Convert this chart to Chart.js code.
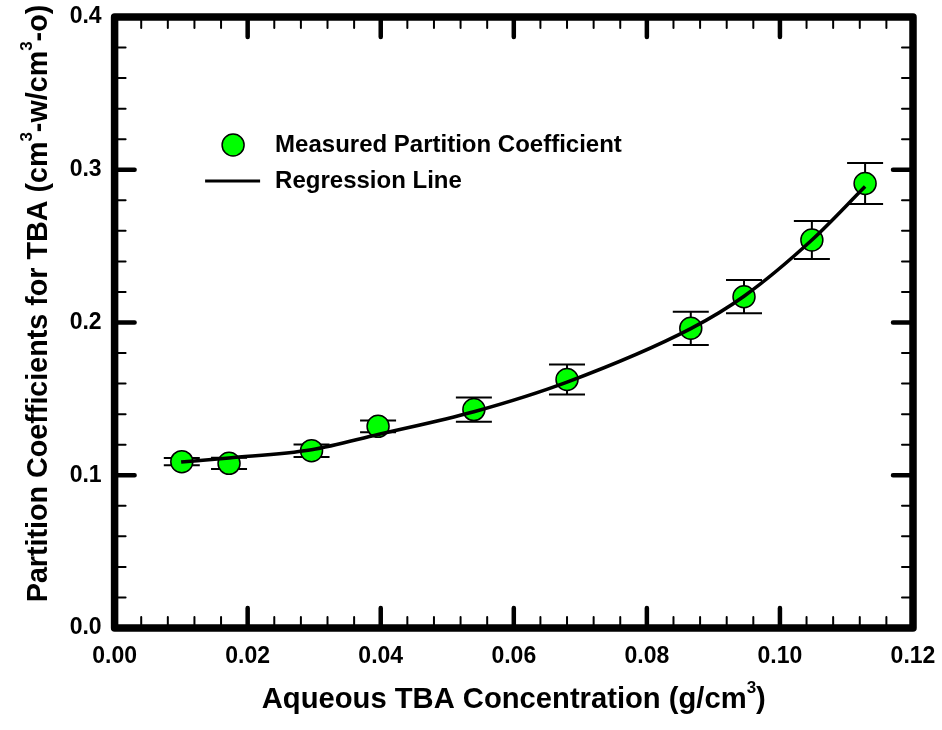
<!DOCTYPE html>
<html><head><meta charset="utf-8">
<script src="https://cdn.jsdelivr.net/npm/chart.js@4.4.0/dist/chart.umd.min.js"></script>
<style>html,body{margin:0;padding:0;background:#fff;} #wrap{width:942px;height:730px;position:relative;}</style>
</head><body><div id="wrap"><canvas id="c" width="942" height="730" style="width:942px;height:730px;"></canvas></div>
<script>
// ---- data ----
const concentration = [0.0101, 0.0172, 0.0296, 0.0396, 0.0540, 0.0680, 0.0866, 0.0946, 0.1048, 0.1128];
const partitionCoef = [0.1089, 0.1078, 0.1161, 0.1320, 0.1430, 0.1627, 0.1962, 0.2169, 0.2540, 0.2910];
const errorHalf     = [0.0024, 0.0037, 0.0041, 0.0038, 0.0079, 0.0098, 0.0109, 0.0109, 0.0125, 0.0134];
const regressionX   = [0.0100, 0.0172, 0.0296, 0.0396, 0.0540, 0.0680, 0.0866, 0.0946, 0.1048, 0.1128];
const regressionY   = [0.1087, 0.1113, 0.1167, 0.1267, 0.1416, 0.1610, 0.1960, 0.2172, 0.2540, 0.2890];
const xTickValues   = [0.00, 0.02, 0.04, 0.06, 0.08, 0.10, 0.12];
const yTickValues   = [0.0, 0.1, 0.2, 0.3, 0.4];
const seriesNames   = ['Measured Partition Coefficient', 'Regression Line'];
// '^3' marks a superscript 3
const xTitle = 'Aqueous TBA Concentration (g/cm^3)';
const yTitle = 'Partition Coefficients for TBA (cm^3-w/cm^3-o)';

const FONT = '"Liberation Sans", Arial, Helvetica, sans-serif';
const GREEN = '#00ff00';

function richParts(str) {
  const out = [];
  const re = /\^(\d)/g;
  let last = 0, m;
  while ((m = re.exec(str)) !== null) {
    if (m.index > last) out.push({t: str.slice(last, m.index), sup: false});
    out.push({t: m[1], sup: true});
    last = re.lastIndex;
  }
  if (last < str.length) out.push({t: str.slice(last), sup: false});
  return out;
}
function drawRich(ctx, str, cx, baseY, size) {
  const parts = richParts(str);
  const supSize = Math.round(size * 0.58);
  const mainF = 'bold ' + size + 'px ' + FONT, supF = 'bold ' + supSize + 'px ' + FONT;
  let total = 0;
  parts.forEach(p => { ctx.font = p.sup ? supF : mainF; p.w = ctx.measureText(p.t).width; total += p.w; });
  let x = cx - total / 2;
  ctx.textAlign = 'left';
  ctx.textBaseline = 'alphabetic';
  parts.forEach(p => {
    ctx.font = p.sup ? supF : mainF;
    ctx.fillText(p.t, x, p.sup ? baseY - size * 0.53 : baseY);
    x += p.w;
  });
}

const errorBars = {
  id: 'errorBars',
  beforeDatasetsDraw(chart) {
    const {ctx, scales: {x, y}} = chart;
    ctx.save();
    ctx.strokeStyle = '#000';
    ctx.lineWidth = 2;
    concentration.forEach((cx, i) => {
      const px = x.getPixelForValue(cx);
      const top = y.getPixelForValue(partitionCoef[i] + errorHalf[i]);
      const bot = y.getPixelForValue(partitionCoef[i] - errorHalf[i]);
      ctx.beginPath();
      ctx.moveTo(px, top); ctx.lineTo(px, bot);
      ctx.moveTo(px - 18, top); ctx.lineTo(px + 18, top);
      ctx.moveTo(px - 18, bot); ctx.lineTo(px + 18, bot);
      ctx.stroke();
    });
    ctx.restore();
  }
};

const frame = {
  id: 'frame',
  afterDraw(chart) {
    const {ctx, chartArea: a, scales: {x, y}} = chart;
    ctx.save();
    ctx.strokeStyle = '#000';
    ctx.lineCap = 'round';
    // minor ticks
    ctx.lineWidth = 2;
    for (let i = 1; i < 30; i++) {
      if (i % 5 === 0) continue;
      const px = x.getPixelForValue(i * 0.004);
      ctx.beginPath();
      ctx.moveTo(px, a.bottom); ctx.lineTo(px, a.bottom - 11);
      ctx.moveTo(px, a.top); ctx.lineTo(px, a.top + 11);
      ctx.stroke();
    }
    for (let i = 1; i < 20; i++) {
      if (i % 5 === 0) continue;
      const py = y.getPixelForValue(i * 0.02);
      ctx.beginPath();
      ctx.moveTo(a.left, py); ctx.lineTo(a.left + 11, py);
      ctx.moveTo(a.right, py); ctx.lineTo(a.right - 11, py);
      ctx.stroke();
    }
    // major ticks
    ctx.lineWidth = 4.5;
    xTickValues.slice(1, -1).forEach(v => {
      const px = x.getPixelForValue(v);
      ctx.beginPath();
      ctx.moveTo(px, a.bottom); ctx.lineTo(px, a.bottom - 20);
      ctx.moveTo(px, a.top); ctx.lineTo(px, a.top + 20);
      ctx.stroke();
    });
    yTickValues.slice(1, -1).forEach(v => {
      const py = y.getPixelForValue(v);
      ctx.beginPath();
      ctx.moveTo(a.left, py); ctx.lineTo(a.left + 20, py);
      ctx.moveTo(a.right, py); ctx.lineTo(a.right - 20, py);
      ctx.stroke();
    });
    // frame
    ctx.lineWidth = 7.5;
    ctx.lineJoin = 'round';
    ctx.strokeRect(a.left, a.top, a.right - a.left, a.bottom - a.top);

    // axis titles
    ctx.fillStyle = '#000';
    drawRich(ctx, xTitle, (a.left + a.right) / 2, a.bottom + 80, 29.2);
    ctx.save();
    ctx.translate(a.left - 67.5, (a.top + a.bottom) / 2 - 19);
    ctx.rotate(-Math.PI / 2);
    drawRich(ctx, yTitle, 0, 0, 28.7);
    ctx.restore();

    // legend
    ctx.font = 'bold 24px ' + FONT;
    ctx.textBaseline = 'middle';
    ctx.textAlign = 'left';
    const lx = a.left + 118.5, ly = a.top + 128;
    ctx.beginPath();
    ctx.arc(lx, ly, 11, 0, Math.PI * 2);
    ctx.fillStyle = GREEN; ctx.fill();
    ctx.lineWidth = 1.5; ctx.stroke();
    ctx.fillStyle = '#000';
    ctx.fillText(seriesNames[0], lx + 42, ly);
    ctx.lineWidth = 3; ctx.lineCap = 'butt';
    ctx.beginPath();
    ctx.moveTo(lx - 28, ly + 36); ctx.lineTo(lx + 27, ly + 36);
    ctx.stroke();
    ctx.fillText(seriesNames[1], lx + 42, ly + 36);
    ctx.restore();
  }
};

const zeroPad = s => { s.paddingTop = 0; s.paddingBottom = 0; s.paddingLeft = 0; s.paddingRight = 0; };

new Chart(document.getElementById('c'), {
  type: 'scatter',
  data: {
    datasets: [
      {
        type: 'line',
        label: seriesNames[1],
        data: regressionX.map((v, i) => ({x: v, y: regressionY[i]})),
        borderColor: '#000',
        borderWidth: 3.5,
        pointRadius: 0,
        fill: false,
        cubicInterpolationMode: 'monotone',
        order: 0
      },
      {
        label: seriesNames[0],
        data: concentration.map((v, i) => ({x: v, y: partitionCoef[i]})),
        backgroundColor: GREEN,
        borderColor: '#000',
        borderWidth: 1.5,
        pointRadius: 11,
        pointHoverRadius: 11,
        order: 1
      }
    ]
  },
  options: {
    responsive: false,
    animation: false,
    devicePixelRatio: 1,
    layout: {padding: {top: 17, right: 29, left: 0, bottom: 0}},
    plugins: {legend: {display: false}, tooltip: {enabled: false}},
    scales: {
      x: {
        type: 'linear', min: 0, max: 0.12,
        afterBuildTicks: s => { s.ticks = xTickValues.map(v => ({value: v})); },
        afterFit: s => { s.height = 102; zeroPad(s); },
        grid: {display: false, drawTicks: false},
        border: {display: false},
        ticks: {padding: 15, color: '#000', font: {family: FONT, size: 23, weight: 'bold'},
                callback: v => Number(v).toFixed(2), maxRotation: 0, autoSkip: false},
        title: {display: false, text: xTitle.replace('^3', '\u00B3')}
      },
      y: {
        type: 'linear', min: 0, max: 0.4,
        afterBuildTicks: s => { s.ticks = yTickValues.map(v => ({value: v})); },
        afterFit: s => { s.width = 114.6; zeroPad(s); },
        grid: {display: false, drawTicks: false},
        border: {display: false},
        ticks: {padding: 13, color: '#000', font: {family: FONT, size: 23, weight: 'bold'},
                callback: v => Number(v).toFixed(1), autoSkip: false},
        title: {display: false, text: yTitle.replace(/\^3/g, '\u00B3')}
      }
    }
  },
  plugins: [errorBars, frame]
});
</script>
</body></html>
